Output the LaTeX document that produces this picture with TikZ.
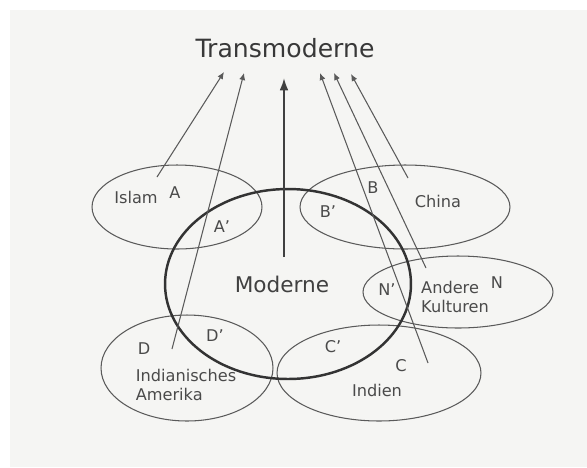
\documentclass[tikz,border=0pt]{standalone}
\usepackage{fontspec}
\setmainfont{DejaVu Sans}
\usepackage{xcolor}
\usetikzlibrary{positioning, calc, shapes.geometric, arrows.meta}

\definecolor{paper}{HTML}{F5F5F3}
\definecolor{ink}{HTML}{4A4A4A}
\definecolor{pen}{HTML}{5A5A5A}

\tikzset{
    kultur/.style={ellipse, draw=pen, line width=0.6pt, inner sep=0pt, outer sep=0pt},
    lbl/.style={text=ink, font=\fontsize{9.2}{11}\selectfont, inner sep=0pt},
    pfeil/.style={draw=pen, line width=0.6pt, -{Latex[length=4pt,width=3.5pt]}},
}

\begin{document}
\begin{tikzpicture}[x=0.02cm, y=-0.02cm]
    \fill[white] (0,0) rectangle (587,467);
    \fill[paper] (10,10) rectangle (587,467);
    \useasboundingbox (0,0) rectangle (587,467);

    \node[kultur, minimum width=3.4cm, minimum height=1.68cm] (islam) at (177,207) {};
    \node[kultur, minimum width=4.2cm, minimum height=1.68cm] (china) at (405,207) {};
    \node[kultur, minimum width=3.8cm, minimum height=1.44cm] (andere) at (458,292) {};
    \node[kultur, minimum width=3.44cm, minimum height=2.12cm] (amerika) at (187,368) {};
    \node[kultur, minimum width=4.08cm, minimum height=1.92cm] (indien) at (379,373) {};
    \node[ellipse, draw=black!80, line width=1.4pt, inner sep=0pt, minimum width=4.92cm, minimum height=3.8cm] (moderne) at (288,284) {};

    \node[text=black!78, font=\fontsize{14.3}{16}\selectfont] (trans) at (285,48) {Transmoderne};
    \node[text=black!75, font=\fontsize{12.3}{14}\selectfont] (modtxt) at (282,284) {Moderne};

    \node[lbl] (islamtxt) at (136,197) {Islam};
    \node[lbl] (a) at (175,193) {A};
    \node[lbl] (as) at (222,227) {A'};
    \node[lbl] (b) at (373,188) {B};
    \node[lbl] (bs) at (328,212) {B'};
    \node[lbl] (chinatxt) at (438,201) {China};
    \node[lbl] (ns) at (387,290) {N'};
    \node[lbl] (n) at (497,283) {N};
    \node[lbl, align=left] (anderetxt) at (455,297) {Andere\\Kulturen};
    \node[lbl] (d) at (144,349) {D};
    \node[lbl] (ds) at (215,336) {D'};
    \node[lbl, align=left] (amerikatxt) at (186,385) {Indianisches\\Amerika};
    \node[lbl] (cs) at (333,347) {C'};
    \node[lbl] (c) at (401,366) {C};
    \node[lbl] (indientxt) at (377,390) {Indien};

    \coordinate (islamfuss) at (157,177);
    \coordinate (amerikafuss) at (172,349);
    \coordinate (modfuss) at (284,257);
    \coordinate (indienfuss) at (428,363);
    \coordinate (anderefuss) at (426,268);
    \coordinate (chinafuss) at (408,178);
    \coordinate (islamziel) at (224,72);
    \coordinate (amerikaziel) at (244,73);
    \coordinate (modziel) at (284,78);
    \coordinate (indienziel) at (320,73);
    \coordinate (andereziel) at (334,73);
    \coordinate (chinaziel) at (351,74);

    \draw[pfeil] (islamfuss) -- (islamziel);
    \draw[pfeil] (amerikafuss) -- (amerikaziel);
    \draw[pfeil] (indienfuss) -- (indienziel);
    \draw[pfeil] (anderefuss) -- (andereziel);
    \draw[pfeil] (chinafuss) -- (chinaziel);
    \draw[draw=black!75, line width=1.1pt, -{Latex[length=7pt,width=5pt]}] (modfuss) -- (modziel);
\end{tikzpicture}
\end{document}
